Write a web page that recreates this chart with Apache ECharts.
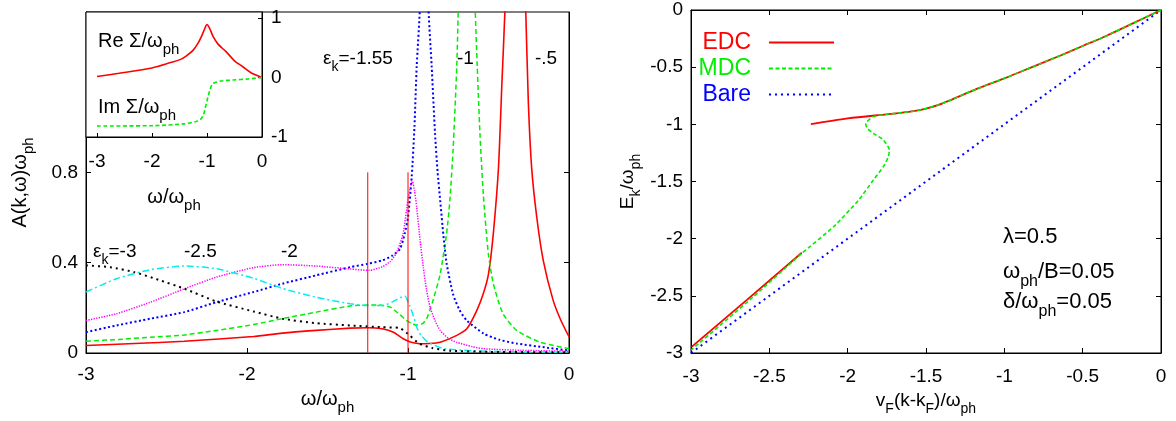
<!DOCTYPE html>
<html><head><meta charset="utf-8">
<script src="https://cdn.jsdelivr.net/npm/echarts@6/dist/echarts.min.js"></script>
<style>html,body{margin:0;padding:0;background:#fff}#c{width:1176px;height:421px}</style>
</head><body><div id="c"></div>
<script>
const FONT = "'Liberation Sans', Arial, Helvetica, sans-serif";

// ===== Left panel: A(k,w)*w_ph vs w/w_ph, one curve per eps_k =====
// eps_k = -0.5 (red solid)
const wEpsM05 = [-3, -2.7, -2.39, -1.96, -1.78, -1.57, -1.36, -1.25, -1.16, -1.09, -1.03, -0.99, -0.95, -0.925, -0.87, -0.8, -0.697, -0.635, -0.573, -0.532, -0.5, -0.47, -0.438, -0.417, -0.396, -0.333, -0.27, -0.253, -0.232, -0.2, -0.16, -0.098, -0.05, 0];
const aEpsM05 = [0.033, 0.042, 0.052, 0.073, 0.088, 0.1, 0.11, 0.112, 0.107, 0.092, 0.063, 0.05, 0.043, 0.041, 0.042, 0.048, 0.078, 0.107, 0.188, 0.263, 0.35, 0.53, 0.82, 1.19, 1.55, 3.0, 1.55, 1.12, 0.82, 0.6, 0.41, 0.232, 0.144, 0.072];
// eps_k = -1 (green dashed)
const wEpsM1 = [-3, -2.8, -2.6, -2.39, -2.19, -1.96, -1.78, -1.57, -1.36, -1.19, -1.11, -1.05, -1.01, -0.97, -0.94, -0.91, -0.884, -0.845, -0.8, -0.76, -0.74, -0.72, -0.697, -0.687, -0.636, -0.584, -0.57, -0.553, -0.532, -0.501, -0.47, -0.41, -0.325, -0.18, 0];
const aEpsM1 = [0.052, 0.06, 0.07, 0.08, 0.1, 0.126, 0.152, 0.181, 0.208, 0.213, 0.203, 0.17, 0.144, 0.128, 0.124, 0.13, 0.152, 0.232, 0.35, 0.53, 0.676, 0.9, 1.27, 1.55, 3.0, 1.55, 1.27, 0.97, 0.7, 0.44, 0.307, 0.174, 0.1, 0.048, 0.019];
// eps_k = -1.55 (blue dotted)
const wEpsM155 = [-3, -2.81, -2.6, -2.39, -2.19, -1.96, -1.78, -1.57, -1.36, -1.25, -1.16, -1.1, -1.05, -1.02, -1.0, -0.977, -0.96, -0.946, -0.925, -0.899, -0.874, -0.853, -0.832, -0.816, -0.8, -0.78, -0.76, -0.72, -0.68, -0.635, -0.53, -0.43, -0.325, -0.15, 0];
const aEpsM155 = [0.092, 0.122, 0.152, 0.181, 0.225, 0.27, 0.307, 0.344, 0.38, 0.395, 0.41, 0.43, 0.46, 0.53, 0.6, 0.78, 1.0, 1.27, 1.55, 3.0, 1.55, 1.27, 0.97, 0.8, 0.676, 0.52, 0.396, 0.26, 0.19, 0.144, 0.086, 0.058, 0.042, 0.025, 0.011];
// eps_k = -2 (magenta dotted)
const wEpsM2 = [-3, -2.81, -2.6, -2.39, -2.19, -1.96, -1.78, -1.57, -1.36, -1.24, -1.16, -1.11, -1.07, -1.03, -1.0, -0.985, -0.973, -0.96, -0.946, -0.925, -0.905, -0.885, -0.863, -0.83, -0.8, -0.75, -0.7, -0.6, -0.53, -0.3, 0];
const aEpsM2 = [0.144, 0.174, 0.225, 0.284, 0.336, 0.378, 0.391, 0.385, 0.372, 0.366, 0.382, 0.405, 0.445, 0.53, 0.68, 0.735, 0.76, 0.72, 0.646, 0.5, 0.38, 0.28, 0.203, 0.14, 0.1, 0.065, 0.048, 0.028, 0.019, 0.012, 0.008];
// eps_k = -2.5 (cyan dash-dot)
const wEpsM25 = [-3, -2.81, -2.6, -2.39, -2.19, -1.96, -1.78, -1.57, -1.36, -1.25, -1.16, -1.1, -1.05, -1.02, -0.99, -0.96, -0.946, -0.92, -0.88, -0.78, -0.6, -0.3, 0];
const aEpsM25 = [0.27, 0.329, 0.369, 0.385, 0.373, 0.331, 0.286, 0.247, 0.218, 0.21, 0.21, 0.225, 0.245, 0.252, 0.21, 0.15, 0.114, 0.08, 0.05, 0.02, 0.01, 0.005, 0.003];
// eps_k = -3 (black dotted)
const wEpsM3 = [-3, -2.85, -2.7, -2.55, -2.39, -2.19, -1.96, -1.78, -1.57, -1.36, -1.16, -1.05, -0.99, -0.93, -0.85, -0.74, -0.5, 0];
const aEpsM3 = [0.388, 0.38, 0.358, 0.324, 0.285, 0.228, 0.184, 0.152, 0.132, 0.122, 0.114, 0.11, 0.078, 0.042, 0.022, 0.01, 0.005, 0.003];
// vertical red markers
const markW = [-1.25, -1.0];
const markTop = 0.8;
// tick values
const leftYTicks = [0, 0.4, 0.8];

// ===== Inset: self energy =====
const wReSigma = [-3, -2.6, -2.0, -1.66, -1.49, -1.38, -1.25, -1.16, -1.1, -1.05, -1.0, -0.95, -0.89, -0.8, -0.65, -0.5, -0.35, -0.2, 0];
const reSigma  = [0.015, 0.07, 0.16, 0.25, 0.3, 0.36, 0.46, 0.58, 0.69, 0.8, 0.89, 0.82, 0.69, 0.56, 0.43, 0.28, 0.18, 0.08, 0];
const wImSigma = [-3, -2.0, -1.43, -1.2, -1.13, -1.07, -1.04, -1.01, -0.98, -0.95, -0.93, -0.9, -0.86, -0.75, -0.53, -0.25, 0];
const imSigma  = [-0.815, -0.81, -0.78, -0.74, -0.714, -0.64, -0.546, -0.43, -0.32, -0.22, -0.165, -0.11, -0.087, -0.06, -0.042, -0.025, 0];
const insetXTicks = [-3, -2, -1, 0];
const insetYTicks = [-1, 0, 1];

// ===== Right panel: dispersions =====
const kEdcHigh = [0, -0.177, -0.347, -0.5, -0.645, -0.815, -1.0, -1.176, -1.347, -1.42, -1.5, -1.58, -1.666, -1.75, -2.0, -2.235];
const eEdcHigh = [0, -0.115, -0.225, -0.315, -0.40, -0.495, -0.598, -0.69, -0.79, -0.83, -0.862, -0.885, -0.9, -0.912, -0.948, -0.998];
const kEdcLow = [-2.293, -2.645, -2.996];
const eEdcLow = [-2.123, -2.537, -2.946];
const kMdc = [0, -0.177, -0.347, -0.5, -0.645, -0.815, -1.0, -1.176, -1.347, -1.42, -1.5, -1.58, -1.666, -1.75, -1.84, -1.885, -1.875, -1.836, -1.772, -1.734, -1.74, -1.772, -1.836, -1.93, -2.09, -2.293, -2.602, -3];
const eMdc = [0, -0.115, -0.225, -0.315, -0.40, -0.495, -0.598, -0.69, -0.79, -0.83, -0.862, -0.885, -0.9, -0.912, -0.935, -0.995, -1.035, -1.079, -1.137, -1.225, -1.283, -1.371, -1.487, -1.662, -1.896, -2.129, -2.508, -2.975];
const kBare = [-3, 0];
const eBare = [-3, 0];

// ===== texts =====
const spectraLabels = ['{m|ε}{s|k}{m|=-3}', '{m|-2.5}', '{m|-2}', '{m|ε}{s|k}{m|=-1.55}', '{m|-1}', '{m|-.5}'];
const insetLabels = ['{m|Re Σ/ω}{s|ph}', '{m|Im Σ/ω}{s|ph}'];
const paramLabels = ['{m|λ=0.5}', '{m|ω}{s|ph}{m|/B=0.05}', '{m|δ/ω}{s|ph}{m|=0.05}'];

const zip = (a, b) => a.map((v, i) => [v, b[i]]);

// main tokens aligned to line top, subscript tokens aligned to line bottom
function richSet(size, color) {
  const sub = Math.round(size * 0.74);
  const shift = 0.35 * size + 0.36 * size - 0.35 * sub;
  const L = size / 2 + shift + sub / 2;
  return {
    m: {fontSize: size, fontFamily: FONT, color: color, verticalAlign: 'top', lineHeight: size},
    s: {fontSize: sub, fontFamily: FONT, color: color, verticalAlign: 'bottom', lineHeight: L}
  };
}
function label(text, x, yMid, size) {
  return {type: 'text', x: x, y: yMid - size / 2, z: 50, silent: true,
    style: {text: text, rich: richSet(size, '#000'), align: 'left', verticalAlign: 'top', fill: '#000', font: size + 'px ' + FONT}};
}

const AX = {color: '#000', width: 1};
const tickLbl = (extra) => Object.assign({color: '#000', fontSize: 19, fontFamily: FONT, margin: 8, showMinLabel: true, showMaxLabel: true, hideOverlap: false}, extra || {});

function line(name, xi, yi, data, color, type, width, z, smooth) {
  return {name: name, type: 'line', xAxisIndex: xi, yAxisIndex: yi, data: data, symbol: 'none', showSymbol: false,
    smooth: smooth || false, clip: true, silent: true, animation: false, z: z || 3,
    lineStyle: {color: color, type: type, width: width}, itemStyle: {color: color}};
}
const sline = (name, data, color, type, width) => line(name, 0, 0, data, color, type, width, 3, 0.2);

const option = {
  animation: false,
  backgroundColor: '#fff',
  grid: [
    {left: 86, top: 12, width: 483, height: 341, show: true, borderColor: '#000', borderWidth: 1, backgroundColor: 'transparent', outerBoundsMode: 'none', containLabel: false},
    {left: 86, top: 12, width: 176, height: 125, show: true, borderColor: '#000', borderWidth: 1, backgroundColor: '#fff', z: 10, outerBoundsMode: 'none', containLabel: false},
    {left: 691, top: 10, width: 470, height: 343, show: true, borderColor: '#000', borderWidth: 1, backgroundColor: 'transparent', outerBoundsMode: 'none', containLabel: false}
  ],
  xAxis: [
    {gridIndex: 0, type: 'value', min: -3, max: 0, interval: 1,
      axisLine: {show: true, onZero: false, lineStyle: AX}, axisTick: {show: true, inside: true, length: 5, lineStyle: AX},
      axisLabel: tickLbl({margin: 12}), splitLine: {show: false},
      name: '{m|ω/ω}{s|ph}', nameLocation: 'middle', nameGap: 36, nameMoveOverlap: false,
      nameTextStyle: {rich: richSet(20, '#000')}},
    {gridIndex: 1, type: 'value', min: -3.2, max: 0, z: 11,
      axisLine: {show: true, onZero: false, lineStyle: AX}, axisTick: {show: true, inside: true, length: 4, lineStyle: AX, customValues: insetXTicks},
      axisLabel: tickLbl({margin: 15, customValues: insetXTicks}), splitLine: {show: false},
      name: '{m|ω/ω}{s|ph}', nameLocation: 'middle', nameGap: 50, nameMoveOverlap: false,
      nameTextStyle: {rich: richSet(20, '#000')}},
    {gridIndex: 2, type: 'value', min: -3, max: 0, interval: 0.5,
      axisLine: {show: true, onZero: false, lineStyle: AX}, axisTick: {show: true, inside: true, length: 5, lineStyle: AX},
      axisLabel: tickLbl({margin: 14}), splitLine: {show: false},
      name: '{m|v}{s|F}{m|(k-k}{s|F}{m|)/ω}{s|ph}', nameLocation: 'middle', nameGap: 38, nameMoveOverlap: false,
      nameTextStyle: {rich: richSet(19, '#000')}},
    {gridIndex: 2, type: 'value', position: 'top', min: -3, max: 0, interval: 0.5,
      axisLine: {show: true, onZero: false, lineStyle: AX}, axisTick: {show: true, inside: true, length: 5, lineStyle: AX},
      axisLabel: {show: false}, splitLine: {show: false}}
  ],
  yAxis: [
    {gridIndex: 0, type: 'value', min: 0, max: 1.51,
      axisLine: {show: true, onZero: false, lineStyle: AX}, axisTick: {show: true, inside: true, length: 5, lineStyle: AX, customValues: leftYTicks},
      axisLabel: tickLbl({customValues: leftYTicks}), splitLine: {show: false},
      name: '{m|A(k,ω)ω}{s|ph}', nameLocation: 'middle', nameGap: 49.5, nameMoveOverlap: false,
      nameTextStyle: {rich: richSet(20, '#000')}},
    {gridIndex: 0, type: 'value', position: 'right', min: 0, max: 1.51,
      axisLine: {show: true, onZero: false, lineStyle: AX}, axisTick: {show: true, inside: true, length: 5, lineStyle: AX, customValues: leftYTicks},
      axisLabel: {show: false}, splitLine: {show: false}},
    {gridIndex: 1, type: 'value', position: 'right', min: -1, max: 1.1, z: 11,
      axisLine: {show: true, onZero: false, lineStyle: AX}, axisTick: {show: true, inside: true, length: 4, lineStyle: AX, customValues: insetYTicks},
      axisLabel: tickLbl({margin: 9, customValues: insetYTicks}), splitLine: {show: false}},
    {gridIndex: 2, type: 'value', min: -3, max: 0, interval: 0.5,
      axisLine: {show: true, onZero: false, lineStyle: AX}, axisTick: {show: true, inside: true, length: 5, lineStyle: AX},
      axisLabel: tickLbl(), splitLine: {show: false},
      name: '{m|E}{s|k}{m|/ω}{s|ph}', nameLocation: 'middle', nameGap: 48, nameMoveOverlap: false,
      nameTextStyle: {rich: richSet(19, '#000')}},
    {gridIndex: 2, type: 'value', position: 'right', min: -3, max: 0, interval: 0.5,
      axisLine: {show: true, onZero: false, lineStyle: AX}, axisTick: {show: true, inside: true, length: 5, lineStyle: AX},
      axisLabel: {show: false}, splitLine: {show: false}}
  ],
  legend: {
    orient: 'vertical', right: 341, top: 31, align: 'right', padding: 0,
    itemWidth: 65, itemHeight: 14, itemGap: 3, selectedMode: false,
    itemStyle: {opacity: 0, borderWidth: 0},
    textStyle: {fontSize: 23, fontFamily: FONT, padding: [0, 13, 0, 0]},
    data: [
      {name: 'EDC', textStyle: {color: '#ff0000'}},
      {name: 'MDC', textStyle: {color: '#00ee00'}},
      {name: 'Bare', textStyle: {color: '#0000ff'}}
    ]
  },
  series: [
    sline('eps-0.5', zip(wEpsM05, aEpsM05), '#ff0000', 'solid', 1.6),
    sline('eps-1', zip(wEpsM1, aEpsM1), '#00ee00', [5, 3], 1.5),
    sline('eps-1.55', zip(wEpsM155, aEpsM155), '#0000ff', [2, 2.5], 2),
    sline('eps-2', zip(wEpsM2, aEpsM2), '#ff00ff', [1.3, 1.3], 1.5),
    sline('eps-2.5', zip(wEpsM25, aEpsM25), '#00eeee', [7, 3, 2, 3], 1.5),
    sline('eps-3', zip(wEpsM3, aEpsM3), '#000000', [2, 4], 2),
    line('mark1', 0, 0, [[markW[0], 0], [markW[0], markTop]], '#ff0000', 'solid', 1, 4),
    line('mark2', 0, 0, [[markW[1], 0], [markW[1], markTop]], '#ff0000', 'solid', 1, 4),
    line('ReSigma', 1, 2, zip(wReSigma, reSigma), '#ff0000', 'solid', 1.6, 12, 0.3),
    line('ImSigma', 1, 2, zip(wImSigma, imSigma), '#00ee00', [4, 2.5], 1.6, 12, 0.3),
    line('Bare', 2, 3, zip(kBare, eBare), '#0000ff', [2, 4], 2, 3),
    line('EDC', 2, 3, zip(kEdcHigh, eEdcHigh), '#ff0000', 'solid', 1.8, 4, 0.3),
    line('EDC', 2, 3, zip(kEdcLow, eEdcLow), '#ff0000', 'solid', 1.8, 4),
    line('MDC', 2, 3, zip(kMdc, eMdc), '#00ee00', [4, 2.5], 1.6, 5, 0.2)
  ],
  graphic: [
    label(spectraLabels[0], 93, 252, 19),
    label(spectraLabels[1], 184, 252, 19),
    label(spectraLabels[2], 281, 252, 19),
    label(spectraLabels[3], 323, 59, 19),
    label(spectraLabels[4], 457, 59, 19),
    label(spectraLabels[5], 535, 59, 19),
    label(insetLabels[0], 98, 41, 20),
    label(insetLabels[1], 98, 107, 20),
    label(paramLabels[0], 1003, 237, 22),
    label(paramLabels[1], 1003, 272, 22),
    label(paramLabels[2], 1003, 302, 22)
  ]
};

const chart = echarts.init(document.getElementById('c'), null, {renderer: 'canvas'});
chart.setOption(option);
</script></body></html>
